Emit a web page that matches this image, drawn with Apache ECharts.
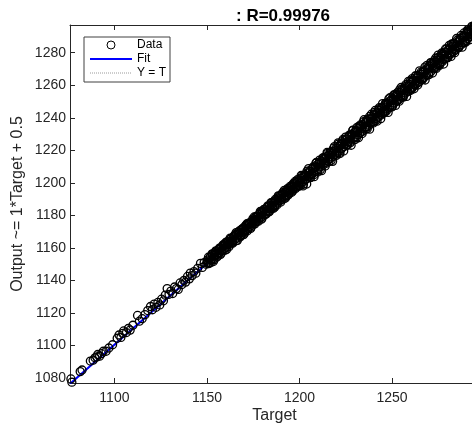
<!DOCTYPE html>
<html>
<head>
<meta charset="utf-8">
<script src="https://cdn.jsdelivr.net/npm/echarts@6/dist/echarts.min.js"></script>
<style>
html,body{margin:0;padding:0;background:#fff;}
#chart{width:472px;height:423px;}
</style>
</head>
<body>
<div id="chart"></div>
<script>
// ---- data ----
const titleText = ': R=0.99976';
const xTicks = [1100, 1150, 1200, 1250];
const yTicks = [1080, 1100, 1120, 1140, 1160, 1180, 1200, 1220, 1240, 1260, 1280];
const xRange = [1076, 1297];
const yRange = [1077, 1297];

const targetLow = [
1076.5,1077.0,1081.5,1082.5,1087.0,1088.5,1089.5,1090.5,1091.0,1092.0,
1093.0,1094.0,1095.5,1097.0,1099.0,1101.5,1102.5,1103.5,1104.5,1105.0,
1106.5,1107.5,1108.5,1110.0,1112.5,1113.5,1115.0,1116.5,1118.0,1119.5,
1120.5,1121.5,1122.5,1123.5,1124.5,1125.5,1126.5,1127.5,1128.5,1129.5,
1130.5,1131.5,1132.5,1133.5,1134.5,1135.5,1136.5,1137.5,1138.5,1139.5,
1140.5,1141.0,1142.0,1143.0,1144.0,1145.0,1146.5,1147.5,1148.5,1149.5];
const outputLow = [
1079.5,1077.5,1084.0,1085.0,1090.5,1091.0,1092.5,1093.0,1094.5,1093.5,
1095.0,1096.5,1096.5,1098.5,1100.5,1104.5,1106.5,1105.0,1107.5,1109.0,
1108.0,1110.5,1109.5,1112.5,1118.5,1115.0,1116.5,1119.0,1121.5,1124.0,
1122.0,1125.5,1123.5,1126.5,1125.0,1128.5,1127.5,1131.0,1135.0,1131.5,
1133.5,1132.0,1136.0,1135.0,1134.5,1138.5,1137.5,1140.0,1139.0,1142.5,
1141.0,1144.5,1143.0,1145.5,1144.5,1147.5,1150.5,1148.0,1151.0,1150.0];

const targetMid = [
1150.3,1151.2,1151.8,1152.5,1153.1,1153.6,1154.4,1155.0,1155.7,1156.2,
1156.9,1157.5,1158.1,1158.8,1159.4,1160.0,1160.6,1161.3,1161.8,1162.5,
1163.1,1163.7,1164.4,1165.0,1165.5,1166.2,1166.8,1167.4,1168.1,1168.7,
1169.3,1169.9,1170.6,1171.2,1171.8,1172.4,1173.0,1173.7,1174.3,1174.9,
1175.5,1176.2,1176.8,1177.4,1178.0,1178.6,1179.3,1179.9,1180.5,1181.1,
1181.8,1182.4,1183.0,1183.6,1184.2,1184.9,1185.5,1186.1,1186.7,1187.3,
1188.0,1188.6,1189.2,1189.8,1190.4,1191.1,1191.7,1192.3,1192.9,1193.5,
1194.2,1194.8,1195.4,1196.0,1196.6,1197.3,1197.9,1198.5,1199.1,1199.7];
const outputMid = [
1152.5,1151.0,1154.6,1153.0,1155.9,1153.4,1157.0,1155.8,1156.1,1158.9,
1157.2,1160.1,1158.0,1161.5,1159.9,1163.2,1160.4,1162.0,1164.1,1162.3,
1165.8,1163.5,1166.9,1165.2,1168.3,1166.0,1168.1,1169.9,1167.6,1171.2,
1169.1,1172.4,1170.2,1173.8,1171.5,1174.6,1172.8,1175.5,1173.9,1176.8,
1175.0,1178.9,1176.4,1179.2,1178.3,1181.0,1178.8,1182.4,1180.2,1183.5,
1181.2,1184.6,1182.5,1185.9,1184.0,1186.3,1185.1,1188.5,1186.0,1189.2,
1187.6,1190.8,1189.0,1192.4,1189.9,1193.1,1191.3,1194.2,1192.0,1195.3,
1193.8,1196.5,1195.1,1197.9,1196.0,1199.4,1197.2,1200.3,1198.6,1201.5];

const targetMid2 = [
1150.8,1151.9,1152.9,1153.9,1154.8,1155.9,1156.8,1157.8,1158.9,1159.8,
1160.9,1161.9,1162.8,1163.9,1164.9,1165.8,1166.9,1167.9,1168.8,1169.8,
1170.9,1171.9,1172.8,1173.9,1174.8,1175.9,1176.9,1177.8,1178.9,1179.8,
1180.8,1181.9,1182.9,1183.8,1184.9,1185.8,1186.9,1187.9,1188.8,1189.9,
1190.9,1191.8,1192.8,1193.9,1194.9,1195.8,1196.8,1197.9,1198.9,1199.8];
const outputMid2 = [
1154.3,1150.9,1156.1,1152.8,1158.2,1155.0,1159.9,1156.9,1161.7,1158.6,
1163.9,1160.8,1165.6,1162.9,1167.8,1164.4,1169.7,1166.8,1171.5,1168.2,
1173.8,1170.6,1175.4,1172.7,1177.9,1174.8,1179.6,1176.4,1181.8,1178.3,
1183.5,1180.7,1185.9,1182.4,1187.6,1184.3,1189.8,1186.5,1191.7,1188.2,
1193.9,1190.4,1195.6,1192.5,1197.8,1194.2,1199.7,1196.5,1201.9,1198.1];

const targetMid3 = [
1150.2,1150.85,1151.5,1152.15,1152.8,1153.45,1154.1,1154.75,1155.4,1156.05,
1156.7,1157.35,1158.0,1158.65,1159.3,1159.95,1160.6,1161.25,1161.9,1162.55,
1163.2,1163.85,1164.5,1165.15,1165.8,1166.45,1167.1,1167.75,1168.4,1169.05,
1169.7,1170.35,1171.0,1171.65,1172.3,1172.95,1173.6,1174.25,1174.9,1175.55,
1176.2,1176.85,1177.5,1178.15,1178.8,1179.45,1180.1,1180.75,1181.4,1182.05,
1182.7,1183.35,1184.0,1184.65,1185.3,1185.95,1186.6,1187.25,1187.9,1188.55,
1189.2,1189.85,1190.5,1191.15,1191.8,1192.45,1193.1,1193.75,1194.4,1195.05,
1195.7,1196.35,1197.0,1197.65,1198.3,1198.95,1199.6];
const outputMid3 = [
1151.2,1150.35,1153.7,1152.35,1156.4,1151.65,1155.5,1157.65,1154.5,1156.65,
1159.2,1156.05,1158.4,1161.85,1159.1,1161.65,1159.0,1163.35,1162.8,1166.05,
1164.2,1163.35,1166.7,1165.35,1169.4,1164.65,1168.5,1170.65,1167.5,1169.65,
1172.2,1169.05,1171.4,1174.85,1172.1,1174.65,1172.0,1176.35,1175.8,1179.05,
1177.2,1176.35,1179.7,1178.35,1182.4,1177.65,1181.5,1183.65,1180.5,1182.65,
1185.2,1182.05,1184.4,1187.85,1185.1,1187.65,1185.0,1189.35,1188.8,1192.05,
1190.2,1189.35,1192.7,1191.35,1195.4,1190.65,1194.5,1196.65,1193.5,1195.65,
1198.2,1195.05,1197.4,1200.85,1198.1,1200.65,1198.0];

const targetHigh = [
1200.4,1201.0,1201.6,1202.2,1202.8,1203.5,1204.1,1204.7,1205.3,1205.9,
1206.6,1207.2,1207.8,1208.4,1209.0,1209.7,1210.3,1210.9,1211.5,1212.1,
1212.8,1213.4,1214.0,1214.6,1215.2,1215.9,1216.5,1217.1,1217.7,1218.3,
1219.0,1219.6,1220.2,1220.8,1221.4,1222.1,1222.7,1223.3,1223.9,1224.5,
1225.2,1225.8,1226.4,1227.0,1227.6,1228.3,1228.9,1229.5,1230.1,1230.7,
1231.4,1232.0,1232.6,1233.2,1233.8,1234.5,1235.1,1235.7,1236.3,1236.9,
1237.6,1238.2,1238.8,1239.4,1240.0,1240.7,1241.3,1241.9,1242.5,1243.1,
1243.8,1244.4,1245.0,1245.6,1246.2,1246.9,1247.5,1248.1,1248.7,1249.3,
1250.0,1250.6,1251.2,1251.8,1252.4,1253.1,1253.7,1254.3,1254.9,1255.5,
1256.2,1256.8,1257.4,1258.0,1258.6,1259.3,1259.9,1260.5,1261.1,1261.7,
1262.4,1263.0,1263.6,1264.2,1264.8,1265.5,1266.1,1266.7,1267.3,1267.9,
1268.6,1269.2,1269.8,1270.4,1271.0,1271.7,1272.3,1272.9,1273.5,1274.1,
1274.8,1275.4,1276.0,1276.6,1277.2,1277.9,1278.5,1279.1,1279.7,1280.3,
1281.0,1281.6,1282.2,1282.8,1283.4,1284.1,1284.7,1285.3,1285.9,1286.5,
1287.2,1287.8,1288.4,1289.0,1289.6,1290.3,1290.9,1291.5,1292.1,1292.7,
1293.4,1294.0,1294.6,1295.2,1295.8,1296.4,1297.0];
const outputHigh = [
1199.6,1202.8,1200.5,1203.9,1202.0,1204.6,1202.9,1206.1,1203.8,1207.0,
1205.2,1208.9,1206.4,1209.5,1207.3,1211.2,1209.0,1212.4,1210.1,1213.0,
1211.0,1214.8,1212.6,1216.1,1213.5,1217.2,1215.0,1218.5,1215.9,1219.4,
1217.3,1221.1,1218.8,1222.4,1219.6,1223.5,1221.0,1224.6,1222.2,1225.9,
1223.1,1227.0,1224.9,1228.6,1225.4,1229.8,1227.2,1230.9,1228.0,1232.1,
1229.6,1233.4,1230.8,1234.9,1231.7,1235.8,1233.0,1237.1,1234.5,1238.2,
1235.4,1239.3,1236.9,1240.6,1237.8,1241.9,1239.6,1243.0,1240.3,1244.5,
1241.6,1245.9,1242.8,1246.7,1244.0,1248.3,1245.5,1249.2,1246.4,1250.6,
1247.8,1251.7,1249.1,1253.0,1250.2,1254.4,1251.5,1255.6,1252.7,1256.8,
1253.9,1258.0,1255.2,1259.4,1256.1,1260.6,1257.8,1261.9,1258.7,1262.8,
1260.0,1264.3,1261.2,1265.6,1262.5,1266.7,1263.9,1268.0,1264.8,1269.1,
1266.1,1270.4,1267.5,1271.8,1268.4,1273.0,1270.0,1274.2,1271.1,1275.3,
1272.3,1276.6,1273.8,1277.9,1274.6,1279.2,1276.1,1280.4,1277.2,1281.5,
1278.6,1282.9,1279.7,1284.0,1280.9,1285.2,1282.3,1286.6,1283.4,1287.7,
1284.8,1289.1,1286.0,1290.4,1287.1,1291.5,1288.6,1292.8,1289.8,1293.9,
1291.0,1295.3,1292.2,1296.4,1293.6,1297.6,1296.0];

const targetHigh2 = [
1200.9,1201.9,1202.9,1203.9,1204.9,1205.9,1206.9,1207.9,1208.9,1209.9,
1210.9,1211.9,1212.9,1213.9,1214.9,1215.9,1216.9,1217.9,1218.9,1219.9,
1220.9,1221.9,1222.9,1223.9,1224.9,1225.9,1226.9,1227.9,1228.9,1229.9,
1230.9,1231.9,1232.9,1233.9,1234.9,1235.9,1236.9,1237.9,1238.9,1239.9,
1240.9,1241.9,1242.9,1243.9,1244.9,1245.9,1246.9,1247.9,1248.9,1249.9,
1250.9,1251.9,1252.9,1253.9,1254.9,1255.9,1256.9,1257.9,1258.9,1259.9,
1260.9,1261.9,1262.9,1263.9,1264.9,1265.9,1266.9,1267.9,1268.9,1269.9,
1270.9,1271.9,1272.9,1273.9,1274.9,1275.9,1276.9,1277.9,1278.9,1279.9,
1280.9,1281.9,1282.9,1283.9,1284.9,1285.9,1286.9,1287.9,1288.9,1289.9,
1290.9,1291.9,1292.9,1293.9,1294.9,1295.9,1296.9];
const outputHigh2 = [
1204.5,1198.1,1205.1,1199.3,1208.8,1203.2,1208.7,1203.8,1212.2,1206.7,
1214.0,1207.5,1215.5,1210.4,1218.7,1213.0,1219.0,1213.2,1222.3,1216.9,
1224.6,1218.0,1225.3,1219.6,1228.1,1223.3,1228.8,1223.1,1232.4,1226.5,
1233.9,1227.7,1235.6,1230.3,1238.8,1233.1,1239.2,1233.0,1242.2,1236.8,
1244.5,1237.9,1245.4,1239.4,1248.7,1243.2,1248.9,1243.3,1252.3,1246.6,
1254.0,1247.6,1255.5,1250.2,1258.6,1253.0,1259.1,1253.1,1262.4,1256.7,
1264.1,1257.8,1265.7,1260.1,1268.8,1263.3,1268.7,1263.2,1272.2,1266.4,
1273.9,1267.5,1275.3,1270.3,1278.5,1273.1,1279.0,1273.0,1282.3,1276.8,
1284.4,1277.7,1285.6,1280.0,1288.7,1283.2,1288.9,1283.4,1292.1,1286.6,
1294.0,1287.9,1295.4,1290.2,1297.8,1293.3,1295.7];

const targetHigh3 = [
1200.2,1200.85,1201.5,1202.15,1202.8,1203.45,1204.1,1204.75,1205.4,1206.05,
1206.7,1207.35,1208.0,1208.65,1209.3,1209.95,1210.6,1211.25,1211.9,1212.55,
1213.2,1213.85,1214.5,1215.15,1215.8,1216.45,1217.1,1217.75,1218.4,1219.05,
1219.7,1220.35,1221.0,1221.65,1222.3,1222.95,1223.6,1224.25,1224.9,1225.55,
1226.2,1226.85,1227.5,1228.15,1228.8,1229.45,1230.1,1230.75,1231.4,1232.05,
1232.7,1233.35,1234.0,1234.65,1235.3,1235.95,1236.6,1237.25,1237.9,1238.55,
1239.2,1239.85,1240.5,1241.15,1241.8,1242.45,1243.1,1243.75,1244.4,1245.05,
1245.7,1246.35,1247.0,1247.65,1248.3,1248.95,1249.6,1250.25,1250.9,1251.55,
1252.2,1252.85,1253.5,1254.15,1254.8,1255.45,1256.1,1256.75,1257.4,1258.05,
1258.7,1259.35,1260.0,1260.65,1261.3,1261.95,1262.6,1263.25,1263.9,1264.55,
1265.2,1265.85,1266.5,1267.15,1267.8,1268.45,1269.1,1269.75,1270.4,1271.05,
1271.7,1272.35,1273.0,1273.65,1274.3,1274.95,1275.6,1276.25,1276.9,1277.55,
1278.2,1278.85,1279.5,1280.15,1280.8,1281.45,1282.1,1282.75,1283.4,1284.05,
1284.7,1285.35,1286.0,1286.65,1287.3,1287.95,1288.6,1289.25,1289.9,1290.55,
1291.2,1291.85,1292.5,1293.15,1293.8,1294.45,1295.1,1295.75,1296.4,1296.9];
const outputHigh3 = [
1200.5,1198.65,1204.3,1199.15,1204.0,1202.05,1207.2,1204.15,1207.4,1203.45,
1205.7,1209.75,1205.1,1209.45,1212.6,1208.05,1212.1,1208.05,1212.0,1215.25,
1215.0,1213.55,1212.0,1218.15,1214.6,1218.65,1213.7,1218.35,1221.3,1217.35,
1220.0,1218.15,1223.8,1218.65,1223.5,1221.55,1226.7,1223.65,1226.9,1222.95,
1225.2,1229.25,1224.6,1228.95,1232.1,1227.55,1231.6,1227.55,1231.5,1234.75,
1234.5,1233.05,1231.5,1237.65,1234.1,1238.15,1233.2,1237.85,1240.8,1236.85,
1239.5,1237.65,1243.3,1238.15,1243.0,1241.05,1246.2,1243.15,1246.4,1242.45,
1244.7,1248.75,1244.1,1248.45,1251.6,1247.05,1251.1,1247.05,1251.0,1254.25,
1254.0,1252.55,1251.0,1257.15,1253.6,1257.65,1252.7,1257.35,1260.3,1256.35,
1259.0,1257.15,1262.8,1257.65,1262.5,1260.55,1265.7,1262.65,1265.9,1261.95,
1264.2,1268.25,1263.6,1267.95,1271.1,1266.55,1270.6,1266.55,1270.5,1273.75,
1273.5,1272.05,1270.5,1276.65,1273.1,1277.15,1272.2,1276.85,1279.8,1275.85,
1278.5,1276.65,1282.3,1277.15,1282.0,1280.05,1285.2,1282.15,1285.4,1281.45,
1283.7,1287.75,1283.1,1287.45,1290.6,1286.05,1290.1,1286.05,1290.0,1293.25,
1293.0,1291.55,1290.0,1296.15,1292.6,1296.65,1291.7,1296.35,1296.8,1295.2];

const fitTarget = [1076, 1297];
const fitOutput = [1076.5, 1297.5];
const identTarget = [1076, 1297];
const identOutput = [1076, 1297];

// ---- build ----
function pairs(xs, ys) { return xs.map((x, i) => [x, ys[i]]); }
const dataPoints = pairs(targetLow, outputLow)
  .concat(pairs(targetMid, outputMid))
  .concat(pairs(targetMid2, outputMid2))
  .concat(pairs(targetMid3, outputMid3))
  .concat(pairs(targetHigh, outputHigh))
  .concat(pairs(targetHigh2, outputHigh2))
  .concat(pairs(targetHigh3, outputHigh3));

const FONT = 'Liberation Sans, Arial, Helvetica, sans-serif';
const AX = '#262626';
const plain = v => String(v);

const chart = echarts.init(document.getElementById('chart'), null, {renderer: 'canvas'});
chart.setOption({
  animation: false,
  backgroundColor: '#ffffff',
  title: {
    text: titleText,
    left: 231, top: 3,
    textStyle: {fontFamily: FONT, fontSize: 17, fontWeight: 'bold', color: '#000'}
  },
  legend: {
    orient: 'vertical',
    left: 84, top: 37,
    padding: [2, 4, 3, 5],
    itemWidth: 42, itemHeight: 8, itemGap: 2,
    backgroundColor: '#fff',
    borderColor: '#404040', borderWidth: 1, borderRadius: 0,
    textStyle: {fontFamily: FONT, fontSize: 12, color: '#000', lineHeight: 12},
    data: [
      {name: 'Data', itemStyle: {borderWidth: 1}},
      {name: 'Fit', lineStyle: {width: 2}, itemStyle: {borderWidth: 0}},
      {name: 'Y = T', lineStyle: {width: 1}, itemStyle: {borderWidth: 0}}
    ]
  },
  grid: {left: 70, right: -7, top: 25, bottom: 40, containLabel: false, outerBoundsMode: 'none'},
  xAxis: [{
    type: 'value', position: 'bottom', min: xRange[0], max: xRange[1],
    name: 'Target', nameLocation: 'middle', nameGap: 25, nameMoveOverlap: false,
    nameTextStyle: {fontFamily: FONT, fontSize: 16, color: AX},
    axisLine: {show: true, lineStyle: {color: AX, width: 1}},
    axisTick: {show: true, inside: true, length: 5, customValues: xTicks, lineStyle: {color: AX}},
    axisLabel: {show: true, margin: 8, customValues: xTicks, formatter: plain, fontFamily: FONT, fontSize: 14, color: AX},
    splitLine: {show: false}
  }, {
    type: 'value', position: 'top', min: xRange[0], max: xRange[1],
    axisLine: {show: true, lineStyle: {color: AX, width: 1}},
    axisTick: {show: true, inside: true, length: 5, customValues: xTicks, lineStyle: {color: AX}},
    axisLabel: {show: false},
    splitLine: {show: false}
  }],
  yAxis: [{
    type: 'value', min: yRange[0], max: yRange[1],
    name: 'Output ~= 1*Target + 0.5', nameLocation: 'middle', nameGap: 44, nameMoveOverlap: false,
    nameTextStyle: {fontFamily: FONT, fontSize: 16, color: AX},
    axisLine: {show: true, lineStyle: {color: AX, width: 1}},
    axisTick: {show: true, inside: true, length: 5, customValues: yTicks, lineStyle: {color: AX}},
    axisLabel: {show: true, margin: 4, customValues: yTicks, formatter: plain, fontFamily: FONT, fontSize: 14, color: AX},
    splitLine: {show: false}
  }],
  series: [{
    name: 'Y = T', type: 'line', symbol: 'none', z: 1,
    data: pairs(identTarget, identOutput),
    lineStyle: {color: '#9a9a9a', width: 1, type: 'dotted'},
    itemStyle: {color: 'rgba(0,0,0,0)'}
  }, {
    name: 'Fit', type: 'line', symbol: 'none', z: 2,
    data: pairs(fitTarget, fitOutput),
    lineStyle: {color: '#0000ff', width: 2},
    itemStyle: {color: 'rgba(0,0,0,0)'}
  }, {
    name: 'Data', type: 'scatter', z: 3, large: false,
    symbol: 'circle', symbolSize: 8,
    data: dataPoints,
    itemStyle: {color: 'rgba(0,0,0,0)', borderColor: '#000', borderWidth: 1.3, opacity: 1}
  }]
});
</script>
</body>
</html>
